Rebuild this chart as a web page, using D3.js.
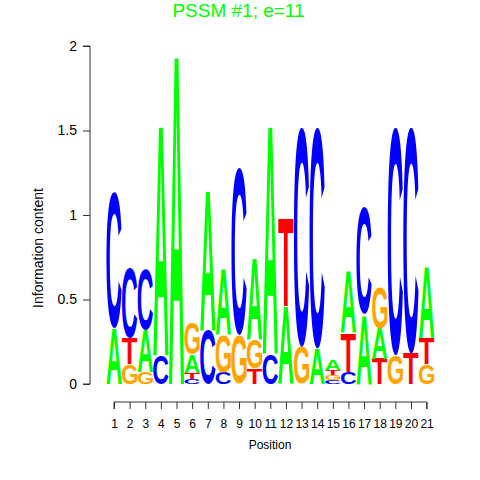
<!DOCTYPE html>
<html>
<head>
<meta charset="utf-8">
<script src="https://cdn.jsdelivr.net/npm/d3@7"></script>
<style>
  body { margin: 0; background: #fff; }
  svg { display: block; }
  text { font-family: "Liberation Sans", Arial, sans-serif; }
</style>
</head>
<body>
<div id="chart"></div>
<script>
// information content of each base per position (bits)
var positions = d3.range(1, 22);
var bitsA = [0.33, 0, 0.25, 1.37, 1.96, 0.11, 0.83, 0.39, 0, 0.48, 1.36, 0.46, 0, 0.21, 0.06, 0.37, 0.41, 0.18, 0, 0, 0.42];
var bitsC = [0.80, 0.41, 0.36, 0.17, 0, 0.03, 0.32, 0.07, 0.99, 0, 0.18, 0, 1.30, 1.31, 0.025, 0.07, 0.63, 0, 1.35, 1.34, 0];
var bitsG = [0, 0.12, 0.07, 0, 0, 0.19, 0, 0.22, 0.29, 0.17, 0, 0, 0.22, 0, 0.028, 0, 0, 0.24, 0.17, 0, 0.12];
var bitsT = [0, 0.15, 0, 0, 0, 0.035, 0, 0, 0, 0.09, 0, 0.52, 0, 0, 0.032, 0.23, 0, 0.15, 0, 0.18, 0.15];
var yTicks = [0, 0.5, 1, 1.5, 2];

var letterColor = { A: "#00ff00", C: "#0000ff", G: "#ffa500", T: "#ff0000" };

var width = 480, height = 480;
var x = d3.scaleLinear().domain([1, 21]).range([114, 426.6]);
var y = d3.scaleLinear().domain([0, 2]).range([384, 46]);
var colW = x(2) - x(1);

var svg = d3.select("#chart").append("svg")
  .attr("width", width)
  .attr("height", height);

// measure ink bounds of each glyph so it can be stretched into its box
var fontSpec = "bold 100px 'Liberation Sans'";
var ctx = document.createElement("canvas").getContext("2d");
ctx.font = fontSpec;
var glyph = {};
["A", "C", "G", "T"].forEach(function (l) {
  var m = ctx.measureText(l);
  glyph[l] = {
    left: m.actualBoundingBoxLeft,
    w: m.actualBoundingBoxLeft + m.actualBoundingBoxRight,
    asc: m.actualBoundingBoxAscent,
    desc: m.actualBoundingBoxDescent
  };
});

var stacks = positions.map(function (p, i) {
  var col = [
    { l: "A", v: bitsA[i] }, { l: "C", v: bitsC[i] },
    { l: "G", v: bitsG[i] }, { l: "T", v: bitsT[i] }
  ].filter(function (d) { return d.v > 0; });
  col.sort(function (a, b) { return a.v - b.v; });
  var acc = 0;
  col.forEach(function (d) { d.y0 = acc; acc += d.v; d.y1 = acc; d.pos = p; });
  return col;
});

var letters = svg.append("g");
stacks.forEach(function (col) {
  col.forEach(function (d) {
    var g = glyph[d.l];
    var boxW = colW * 0.98;
    var boxH = y(d.y0) - y(d.y1);
    var sx = boxW / g.w, sy = boxH / (g.asc + g.desc);
    letters.append("text")
      .attr("transform", "translate(" + (x(d.pos) - boxW / 2) + "," + y(d.y0) + ") scale(" + sx + "," + sy + ")")
      .attr("x", g.left)
      .attr("y", -g.desc)
      .style("font-size", "100px")
      .style("font-weight", "bold")
      .attr("fill", letterColor[d.l])
      .text(d.l);
  });
});

// x axis
var xAxis = svg.append("g")
  .attr("transform", "translate(0,402)")
  .call(d3.axisBottom(x).tickValues(positions).tickSize(7).tickPadding(10).tickFormat(d3.format("d")));
xAxis.select(".domain").attr("stroke", "#333").attr("d", "M" + x(1) + ",7V0H" + x(21) + "V7");
xAxis.selectAll(".tick line").attr("stroke", "#333");
xAxis.selectAll(".tick text").style("font-size", "12px").attr("fill", "#000");

// y axis
var yAxis = svg.append("g")
  .attr("transform", "translate(90,0)")
  .call(d3.axisLeft(y).tickValues(yTicks).tickSize(7).tickPadding(6).tickFormat(d3.format("")));
yAxis.select(".domain").attr("stroke", "#333").attr("d", "M-7," + y(0) + "H0V" + y(2) + "H-7");
yAxis.selectAll(".tick line").attr("stroke", "#333");
yAxis.selectAll(".tick text").style("font-size", "14px").attr("fill", "#000");

svg.append("text")
  .attr("x", 238.5)
  .attr("y", 17)
  .attr("text-anchor", "middle")
  .attr("fill", "#00ff00")
  .style("font-size", "19px")
  .text("PSSM #1; e=11");

svg.append("text")
  .attr("x", 270)
  .attr("y", 449)
  .attr("text-anchor", "middle")
  .style("font-size", "12px")
  .text("Position");

svg.append("text")
  .attr("transform", "translate(43,248) rotate(-90)")
  .attr("text-anchor", "middle")
  .style("font-size", "14px")
  .text("Information content");
</script>
</body>
</html>
